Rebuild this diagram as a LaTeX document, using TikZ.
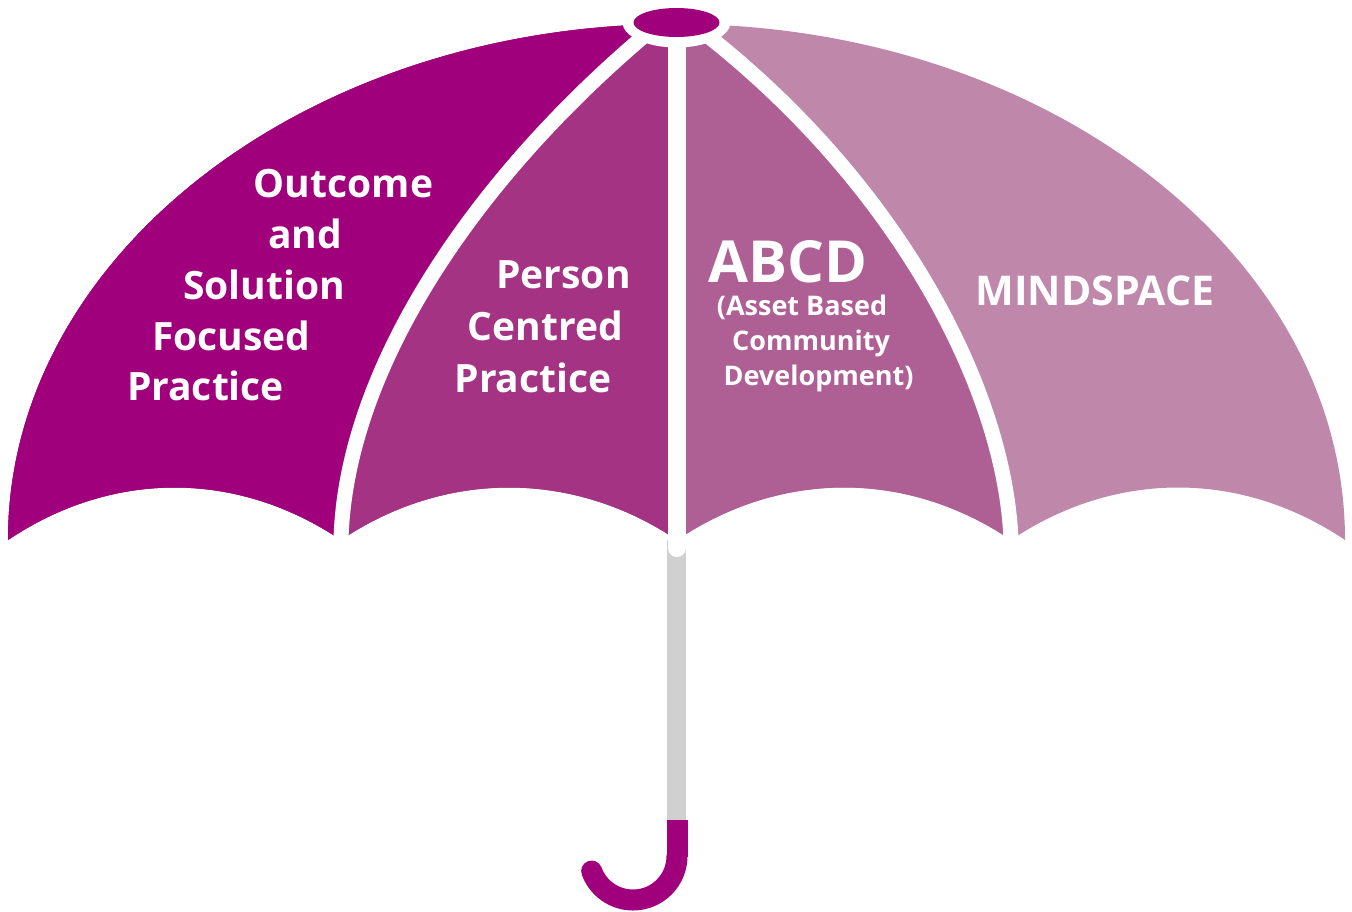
\documentclass[tikz,border=0pt]{standalone}
\usepackage{fontspec}
\setmainfont{Open Sans}
\definecolor{pA}{HTML}{A0007B}
\definecolor{pB}{HTML}{A43383}
\definecolor{pC}{HTML}{AE5F94}
\definecolor{pD}{HTML}{BF87AA}
\definecolor{poleg}{HTML}{D0D0D0}
\tikzset{
  lbl/.style={text=white, font=\bfseries\fontsize{39}{47}\selectfont, anchor=base, inner sep=0pt},
  bigl/.style={text=white, font=\bfseries\fontsize{58}{66}\selectfont, anchor=base, inner sep=0pt},
  smalll/.style={text=white, font=\bfseries\fontsize{27}{32}\selectfont, anchor=base, inner sep=0pt},
  mindl/.style={text=white, font=\bfseries\fontsize{41}{48}\selectfont, anchor=base, inner sep=0pt},
  rib/.style={white, line width=15pt},
}
\begin{document}
\begin{tikzpicture}[x=1pt,y=1pt,yscale=-1]
\useasboundingbox (0,0) rectangle (1352,911);
% pole
\fill[poleg] (667,540) rectangle (686,822);
% canopy panels
\begin{scope}
\clip (676.5,540) ellipse [x radius=668.5, y radius=516];
\clip (0,0) -- (0,540) -- (8,540) .. controls (112,470) and (237,470) .. (341,540)
  .. controls (445,470) and (573,470) .. (677,540)
  .. controls (781,470) and (907,470) .. (1011,540)
  .. controls (1115,470) and (1241,470) .. (1345,540) -- (1352,540) -- (1352,0) -- cycle;
\fill[pD] (0,0) rectangle (1352,560);
\fill[pC] (0,0) -- (688,0) -- (688,20) -- (713,40) .. controls (900,190) and (1005,390) .. (1011,540) -- (1011,560) -- (0,560) -- cycle;
\fill[pB] (0,0) rectangle (677,560);
\fill[pA] (0,0) -- (660,0) -- (660,22) -- (637,42) .. controls (460,195) and (345,380) .. (341,540) -- (341,560) -- (0,560) -- cycle;
\end{scope}
% ribs
\coordinate (r1a) at (660,22);
\coordinate (r1b) at (637,42);
\coordinate (r1c) at (341,540);
\coordinate (r3a) at (688,20);
\coordinate (r3b) at (713,40);
\coordinate (r3c) at (1011,540);
\coordinate (r2a) at (677,30);
\coordinate (r2b) at (677,548);
\draw[rib] (r1a) -- (r1b) .. controls (460,195) and (345,380) .. (r1c);
\draw[rib] (r3a) -- (r3b) .. controls (900,190) and (1005,390) .. (r3c);
\draw[white, line width=18pt, line cap=round] (r2a) -- (r2b);
% knob
\fill[white] (676.5,22.5) ellipse [x radius=54, y radius=25];
\fill[pA] (676.5,22.5) ellipse [x radius=43, y radius=14.5];
% handle
\fill[pA] (666.5,820) rectangle (687.5,857);
\draw[pA, line width=21pt, line cap=round] (677,856) arc[start angle=0, end angle=160, radius=44];
% texts
\node[lbl] (t1) at (343.5,197) {Outcome};
\node[lbl] (t2) at (305,248) {and};
\node[lbl] (t3) at (264,299) {Solution};
\node[lbl] (t4) at (231.5,350) {Focused};
\node[lbl] (t5) at (205.5,400) {Practice};
\node[lbl] (p1) at (563.5,288) {Person};
\node[lbl] (p2) at (545.5,340) {Centred};
\node[lbl] (p3) at (533,392) {Practice};
\node[bigl] (a1) at (787.5,282) {ABCD};
\node[smalll] (a2) at (802,315) {(Asset Based};
\node[smalll] (a3) at (811,350) {Community};
\node[smalll] (a4) at (818.5,385) {Development)};
\node[mindl] (m1) at (1095,305) {MINDSPACE};
\end{tikzpicture}
\end{document}
